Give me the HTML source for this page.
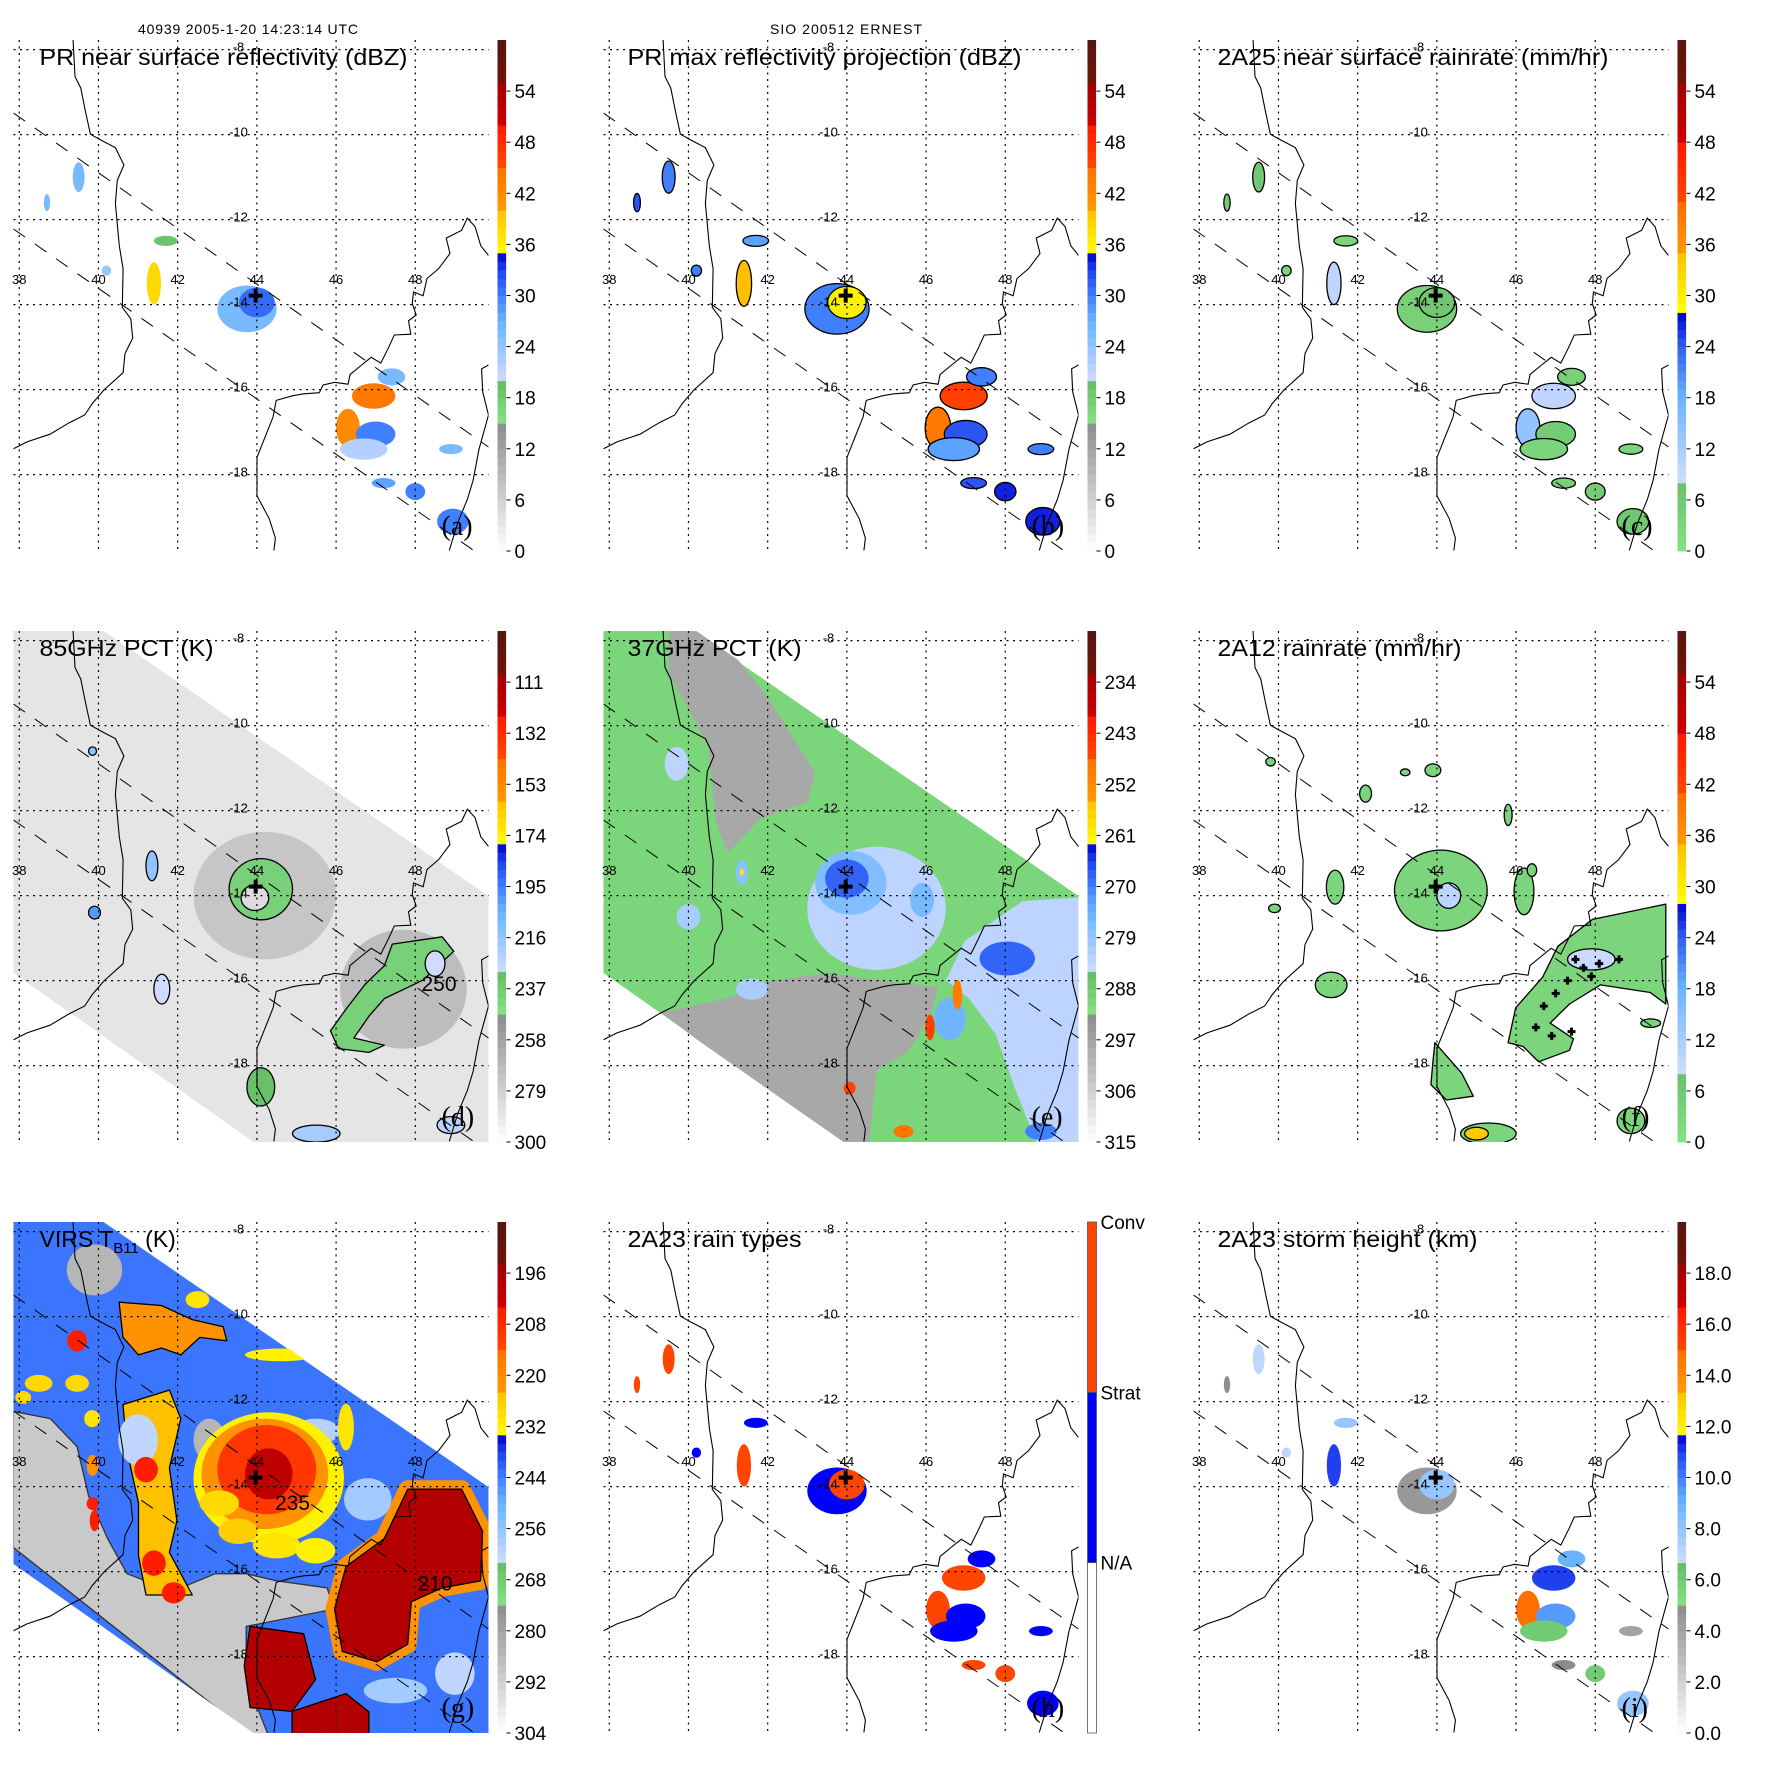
<!DOCTYPE html>
<html><head><meta charset="utf-8"><style>
html,body{margin:0;padding:0;background:#fff;}
svg{display:block;font-family:"Liberation Sans",sans-serif;}
</style></head><body>
<svg id="fig" xmlns="http://www.w3.org/2000/svg" width="1771" height="1771" viewBox="0 0 1771 1771">
<rect x="0" y="0" width="1771" height="1771" fill="#fff"/>
<text x="248" y="34" font-size="14" text-anchor="middle" textLength="220">40939 2005-1-20 14:23:14 UTC</text>
<text x="846" y="34" font-size="14" text-anchor="middle" textLength="152">SIO 200512 ERNEST</text>
</svg>
<script>
// ---------- data ----------
const panelTitles=['PR near surface reflectivity (dBZ)','PR max reflectivity projection (dBZ)','2A25 near surface rainrate (mm/hr)','85GHz PCT (K)','37GHz PCT (K)','2A12 rainrate (mm/hr)','VIRS','2A23 rain types','2A23 storm height (km)'];
const titleWidths=[368,394,391,174,174,244,143,174,260];
const panelLetters=['(a)','(b)','(c)','(d)','(e)','(f)','(g)','(h)','(i)'];
const lonTicks=[38,40,42,44,46,48];
const latTicks=[-8,-10,-12,-14,-16,-18];
const tickA=['0','6','12','18','24','30','36','42','48','54'];
const tickD=['300','279','258','237','216','195','174','153','132','111'];
const tickE=['315','306','297','288','279','270','261','252','243','234'];
const tickG=['304','292','280','268','256','244','232','220','208','196'];
const tickI=['0.0','2.0','4.0','6.0','8.0','10.0','12.0','14.0','16.0','18.0'];
const tickH=['Conv','Strat','N/A'];
// PR cells (shared locations)
const prLon=[43.75,44.0,46.95,46.3,47.0,46.7,48.95,41.4,41.7,39.5,38.7,48.0,47.2,48.9,40.2,47.4];
const prLat=[-14.1,-13.95,-16.15,-16.9,-17.05,-17.4,-19.1,-13.5,-12.5,-11.0,-11.6,-18.4,-18.2,-17.4,-13.2,-15.7];
const prRx=[0.75,0.45,0.55,0.3,0.5,0.6,0.4,0.18,0.3,0.15,0.08,0.25,0.3,0.3,0.12,0.35];
const prRy=[0.55,0.35,0.3,0.45,0.3,0.25,0.3,0.5,0.12,0.35,0.2,0.2,0.12,0.12,0.12,0.2];
const aVal=[26,31,44,42,30,22,30,38,19,26,26,30,28,26,24,26];
const bVal=[30,36,46,44,32,28,34,40,28,30,32,34,32,30,30,30];
const cVal=[4,6,10,14,5,3,6,10,3,6,5,5,4,3,3,4];
const hType=[1,2,2,2,1,1,1,2,1,2,2,2,2,1,1,1];
const iHeight=[4.5,8,11,15,9.5,6,8,11,8,7,5,6,5,4,7,9];
// panel d (85GHz)
const dLon=[44.2,47.7,44.1,43.95,41.35,39.9,39.85,41.6,44.1,45.5,48.9,48.5];
const dLat=[-14.0,-16.2,-13.85,-14.05,-13.3,-14.4,-10.6,-16.2,-18.5,-19.6,-19.4,-15.6];
const dRx=[1.8,1.6,0.8,0.35,0.15,0.15,0.1,0.2,0.35,0.6,0.35,0.25];
const dRy=[1.5,1.4,0.72,0.3,0.35,0.15,0.1,0.35,0.45,0.2,0.2,0.3];
const dVal=[274,270,240,284,215,200,215,230,232,220,225,230];
const dMadLon=[47.42,48.68,48.97,48.19,47.81,47.22,46.83,46.45,47.22,46.83,46.06,45.86,46.25,46.74,47.22];
const dMadLat=[-15.14,-14.97,-15.31,-15.99,-16.16,-16.42,-16.84,-17.35,-17.52,-17.69,-17.60,-17.18,-16.67,-16.08,-15.65];
const dMadVal=240;
// panel e (37GHz)
const eLandLon=[39.5,40.6,41.9,43.2,43.0,41.8,41.0,40.7,40.5,40.0,39.5];
const eLandLat=[-7.7,-7.7,-9.2,-11.1,-11.8,-12.2,-13.0,-12.3,-10.5,-9.6,-8.8];
const eMadLon=[39.31,40.96,42.13,43.58,44.75,46.30,46.11,45.52,44.75,44.55,43.78];
const eMadLat=[-16.75,-16.42,-15.99,-15.82,-15.99,-16.16,-16.84,-17.69,-18.11,-19.9,-19.9];
const eRightLon=[46.98,48.44,49.9,49.9,48.83,48.24,47.76,47.08,46.50];
const eRightLat=[-15.06,-14.13,-14.04,-19.9,-19.9,-18.53,-17.26,-16.42,-15.99];
const eLon=[44.75,44.1,44.0,48.05,48.9,46.6,39.7,40.0,41.6,41.35,46.79,46.1,44.07,45.43,45.9,41.35];
const eLat=[-14.3,-13.7,-13.6,-15.48,-19.55,-16.9,-10.9,-14.5,-16.2,-13.45,-16.33,-17.1,-18.53,-19.55,-14.1,-13.45];
const eRx=[1.75,0.9,0.55,0.7,0.4,0.4,0.3,0.3,0.4,0.15,0.12,0.12,0.15,0.25,0.3,0.05];
const eRy=[1.45,0.75,0.45,0.4,0.2,0.5,0.4,0.3,0.25,0.3,0.35,0.3,0.15,0.15,0.4,0.08];
const eVal=[283,277,268,268,270,275,283,281,281,278,250,246,246,248,276,260];
// panel f (2A12)
const fMadLon=[47.06,47.93,49.78,49.78,49.39,48.13,47.35,46.86,47.45,47.35,46.57,46.18,45.80,45.99,46.67];
const fMadLat=[-15.19,-14.56,-14.20,-16.55,-16.28,-16.10,-16.55,-17.00,-17.37,-17.64,-17.91,-17.55,-17.46,-16.64,-15.92];
const fSwLon=[43.95,44.63,44.92,44.24,43.85,43.90];
const fSwLat=[-17.46,-18.18,-18.72,-18.81,-18.45,-17.91];
const fLon=[44.1,45.3,46.2,41.43,41.33,48.9,42.2,43.2,43.9,45.8,46.4,49.4,39.9,39.8,44.3,47.9,45.0];
const fLat=[-13.88,-19.6,-13.9,-13.8,-16.1,-19.3,-11.6,-11.1,-11.05,-12.1,-13.4,-17.0,-14.3,-10.85,-14.0,-15.5,-19.6];
const fRx=[1.17,0.7,0.25,0.22,0.4,0.35,0.15,0.12,0.2,0.1,0.12,0.25,0.15,0.12,0.3,0.6,0.3];
const fRy=[0.95,0.25,0.55,0.4,0.3,0.3,0.2,0.08,0.15,0.25,0.15,0.1,0.1,0.1,0.3,0.25,0.15];
const fVal=[3,3,3,3,3,3,3,3,3,3,3,3,3,3,10,9,34];
const fCrossLon=[47.5,47.7,47.9,48.1,47.3,47.0,46.7,46.5,46.9,47.4,48.6];
const fCrossLat=[-15.5,-15.7,-15.9,-15.6,-16.0,-16.3,-16.6,-17.1,-17.3,-17.2,-15.5];
// panel g (VIRS)
const gGreyLon=[37.85,38.78,39.46,39.75,40.23,40.72,41.88,42.95,43.73,44.50,45.77,45.96,43.73,43.73,44.31,43.92,37.85];
const gGreyLat=[-12.23,-12.40,-13.06,-14.22,-15.22,-16.05,-16.46,-16.05,-16.05,-16.22,-16.38,-16.88,-17.29,-18.54,-19.9,-19.9,-15.43];
const gTopLon=[40.52,41.59,42.37,43.15,43.24,42.56,42.08,41.59,41.01,40.62];
const gTopLat=[-9.66,-9.74,-10.07,-10.24,-10.57,-10.49,-10.90,-10.74,-10.90,-10.49];
const gColLon=[40.62,41.79,42.08,41.79,41.98,41.79,42.08,42.37,41.20,41.01,41.01,40.72];
const gColLat=[-12.07,-11.73,-12.40,-13.56,-14.80,-15.55,-16.05,-16.55,-16.55,-15.63,-14.39,-13.15];
const gMadLon=[47.81,49.17,49.70,49.65,48.68,47.90,47.81,47.03,46.16,45.96,46.25,47.22];
const gMadLat=[-14.06,-14.06,-15.05,-16.22,-16.38,-16.71,-17.71,-18.12,-17.88,-16.88,-15.88,-15.22];
const gSw1Lon=[43.83,45.18,45.48,44.89,43.83,43.68];
const gSw1Lat=[-17.29,-17.46,-18.54,-19.29,-19.20,-18.21];
const gSw2Lon=[44.89,46.25,46.83,46.83,44.89];
const gSw2Lat=[-19.29,-18.87,-19.3,-19.9,-19.9];
const gLon=[39.9,42.8,45.5,41.0,45.5,46.8,49.0,47.5,44.3,44.2,44.25,44.3,43.05,43.53,44.5,45.48,46.25,44.6,42.5,38.49,38.1,39.46,39.84,39.46,39.85,39.9,39.85,41.2,41.4,41.9];
const gLat=[-8.9,-12.9,-14.3,-12.9,-12.7,-14.3,-18.4,-18.8,-13.8,-13.7,-13.6,-13.7,-14.39,-15.05,-15.39,-15.51,-12.6,-10.9,-9.6,-11.57,-11.9,-11.57,-12.4,-10.57,-14.4,-14.8,-13.5,-13.6,-15.8,-16.5];
const gRx=[0.7,0.4,0.5,0.5,0.6,0.6,0.5,0.8,1.9,1.6,1.25,0.6,0.5,0.5,0.6,0.5,0.2,0.9,0.3,0.35,0.2,0.3,0.2,0.25,0.15,0.12,0.15,0.3,0.3,0.3];
const gRy=[0.6,0.5,0.4,0.6,0.3,0.5,0.5,0.3,1.55,1.3,1.05,0.6,0.3,0.3,0.3,0.3,0.55,0.15,0.2,0.2,0.15,0.2,0.2,0.25,0.15,0.25,0.25,0.3,0.3,0.25];
const gVal=[285,285,282,262,260,258,262,258,232,222,210,200,228,226,230,232,230,232,230,228,228,228,230,205,205,205,222,205,205,205];
// ---------- helpers ----------
const svg=document.getElementById('fig');
const NS='http://www.w3.org/2000/svg';
const COLX=[13.5,603.5,1193.5], ROWY=[40,631,1222];
const MW=475, MH=511;
function mk(tag,attrs,parent){const e=document.createElementNS(NS,tag);for(const k in attrs)e.setAttribute(k,attrs[k]);parent.appendChild(e);return e;}
function px(lon){return 5.77+39.6*(lon-38);}
function py(lat){return 9.6+42.5*(-8-lat);}
const STD=[[0,'#ffffff'],[0.25,'#8c8c8c'],[0.25,'#86e286'],[0.333,'#66bb66'],[0.333,'#d0dcff'],[0.45,'#6ab4ff'],[0.5,'#4080ff'],[0.55,'#2040f0'],[0.583,'#0000cc'],[0.583,'#ffff00'],[0.667,'#ffc000'],[0.667,'#ff9a00'],[0.75,'#ff7000'],[0.75,'#ff4a00'],[0.833,'#ff1800'],[0.833,'#d00000'],[0.917,'#a00000'],[0.917,'#6e1408'],[1,'#55170f']];
const RAIN=[[0,'#86e286'],[0.133,'#6cbf6c'],[0.133,'#d4ddff'],[0.3,'#6ab4ff'],[0.4,'#3060f0'],[0.467,'#0000cc'],[0.467,'#ffff00'],[0.583,'#ffc000'],[0.583,'#ff9a00'],[0.683,'#ff6a00'],[0.683,'#ff4a00'],[0.8,'#ff1800'],[0.8,'#d00000'],[0.917,'#a00000'],[0.917,'#6e1408'],[1,'#55170f']];
function hx(c){return [parseInt(c.substr(1,2),16),parseInt(c.substr(3,2),16),parseInt(c.substr(5,2),16)];}
function cmap(f,stops){f=Math.max(0,Math.min(1,f));for(let i=0;i<stops.length-1;i++){const a=stops[i],b=stops[i+1];if(f>=a[0]&&f<=b[0]&&b[0]>a[0]){const t=(f-a[0])/(b[0]-a[0]);const A=hx(a[1]),B=hx(b[1]);return 'rgb('+A.map((v,j)=>Math.round(v+(B[j]-v)*t)).join(',')+')';}}return stops[stops.length-1][1];}
const scales={
 a:v=>cmap(v/60,STD), c:v=>cmap(v/60,RAIN), d:v=>cmap((300-v)/210,STD), e:v=>cmap((315-v)/90,STD),
 g:v=>cmap((304-v)/120,STD), i:v=>cmap(v/20,STD), h:v=>(v===2?'#ff4500':'#0000ff')
};
function pts(lons,lats){return lons.map((l,i)=>px(l).toFixed(1)+','+py(lats[i]).toFixed(1)).join(' ');}
function ellipses(g,lons,lats,rxs,rys,vals,fn,stroke,nm){
 for(let i=0;i<lons.length;i++){
  const e=mk('ellipse',{cx:px(lons[i]),cy:py(lats[i]),rx:rxs[i]*39.6,ry:rys[i]*42.5,fill:fn(vals[i]),stroke:stroke||'none','stroke-width':1.3},g);
  
  
 }
}
function poly(g,lons,lats,fill,stroke,nm,sw){
 const p=mk('polygon',{points:pts(lons,lats),fill:fill,stroke:stroke||'none','stroke-width':sw||1.3,'stroke-linejoin':'round'},g);
 
 
 return p;
}
// coast in zoom coords -> panel px
const africa=[[190,105],[195,200],[210,230],[222,290],[235,350],[262,365],[300,385],[322,430],[305,470],[300,530],[310,640],[320,700],[318,800],[340,830],[345,880],[325,920],[320,970],[270,1015],[240,1050],[220,1080],[180,1100],[130,1130],[70,1150],[35,1168]];
const madagascar=[[1270,665],[1250,640],[1235,590],[1215,568],[1200,600],[1160,620],[1170,660],[1140,700],[1110,725],[1100,770],[1075,760],[1072,790],[1082,820],[1062,835],[1068,870],[1025,872],[1010,905],[990,945],[965,930],[940,950],[910,975],[905,1000],[870,995],[840,1002],[830,1022],[790,1025],[760,1030],[718,1042],[710,1085],[690,1135],[668,1190],[668,1290],[700,1350],[716,1400],[712,1432]];
const madE1=[[1270,950],[1252,960],[1255,1020],[1270,1080]];
const madE2=[[1270,1080],[1245,1170],[1230,1250],[1215,1300],[1190,1360],[1168,1432]];
function zp(arr){return arr.map(p=>((p[0]-35)/2.6).toFixed(1)+','+((p[1]-105)/2.6).toFixed(1)).join(' ');}
const SWATH='0,0 90,0 475,265 475,511 240,511 0,342';
function makePanel(k){
 const col=k%3,row=Math.floor(k/3);
 const g=mk('g',{transform:'translate('+COLX[col]+','+ROWY[row]+')'},svg);
 
 
 const defs=mk('defs',{},g);
 const cp=mk('clipPath',{id:'mc'+k},defs);mk('rect',{x:0,y:0,width:MW,height:MH},cp);
 const data=mk('g',{'clip-path':'url(#mc'+k+')'},g);
 
 
 return {g,data,sw:data,k};
}
function maskSwath(P){
 const m1=mk('polygon',{points:'90,-2 480,-2 480,265 475,265',fill:'#fff'},P.data);
 
 
 const m2=mk('polygon',{points:'-2,342 240,511 240,515 -2,515',fill:'#fff'},P.data);
 
 
}
function overlay(P){
 const g=P.g;
 const ov=mk('g',{'clip-path':'url(#mc'+P.k+')'},g);
 
 
 [africa,madagascar,madE1,madE2].forEach((c,i)=>{
  const l=mk('polyline',{points:zp(c),fill:'none',stroke:'#000','stroke-width':1.1},ov);
  
  
 });
 lonTicks.forEach(lo=>{
  const l=mk('line',{x1:px(lo),y1:0,x2:px(lo),y2:MH,stroke:'#000','stroke-width':1.2,'stroke-dasharray':'2,4.5'},ov);
  
  
 });
 latTicks.forEach(la=>{
  const l=mk('line',{x1:0,y1:py(la),x2:MW,y2:py(la),stroke:'#000','stroke-width':1.2,'stroke-dasharray':'2,4.5'},ov);
  
  
 });
 const d1=mk('line',{x1:0,y1:73,x2:475,y2:407,stroke:'#000','stroke-width':1,'stroke-dasharray':'14,12'},ov);
 
 
 const d2=mk('line',{x1:0,y1:189,x2:461,y2:511,stroke:'#000','stroke-width':1,'stroke-dasharray':'14,12'},ov);
 
 
 lonTicks.forEach(lo=>{
  const t=mk('text',{x:px(lo),y:244,'font-size':13,'text-anchor':'middle'},g);t.textContent=String(lo);
  
  
 });
 latTicks.forEach(la=>{
  const t=mk('text',{x:225,y:py(la)+2,'font-size':13,'text-anchor':'middle'},g);t.textContent=String(la);
  
  
 });
 const cx=px(43.97),cy=py(-13.79);
 const c1=mk('path',{d:'M'+(cx-7)+' '+cy+'H'+(cx+7)+'M'+cx+' '+(cy-7)+'V'+(cy+7),stroke:'#000','stroke-width':4},g);
 
 
}
function titleAndLetter(P){
 const k=P.k;
 const t=mk('text',{x:k%3===0?26:24,y:25,'font-size':23},P.g);
 if(k===6){
  t.textContent='VIRS T';
  const s=mk('tspan',{'font-size':15,dy:6},t);s.textContent='B11';
  const s2=mk('tspan',{dy:-6},t);s2.textContent=' (K)';
 } else {
  t.textContent=panelTitles[k];
  t.setAttribute('textLength',titleWidths[k]);
  t.setAttribute('lengthAdjust','spacingAndGlyphs');
 }
 
 
 const L=mk('text',{x:428,y:495,'font-size':28,'font-family':'Liberation Serif, serif'},P.g);L.textContent=panelLetters[k];
 
 
}
function colorbar(P,stops,labels){
 const cb=mk('g',{},P.g);
 
 
 const n=60,h=MH/n;
 for(let i=0;i<n;i++){
  const r=mk('rect',{x:484,y:MH-(i+1)*h,width:8.6,height:h+0.4,fill:cmap((i+0.5)/n,stops)},cb);
  
  
 }
 labels.forEach((lab,i)=>{
  const y=MH-i*MH/10;
  const tk=mk('line',{x1:493,y1:y,x2:497,y2:y,stroke:'#000','stroke-width':1},cb);
  
  
  const t=mk('text',{x:501,y:y+7,'font-size':19},cb);t.textContent=lab;
  
  
 });
}
// ---------- panels ----------
// (a)
let P=makePanel(0);
ellipses(P.data,prLon,prLat,prRx,prRy,aVal,scales.a,null,'pr-cell');
overlay(P);titleAndLetter(P);colorbar(P,STD,tickA);
// (b)
P=makePanel(1);
ellipses(P.data,prLon,prLat,prRx.map(v=>v*1.08),prRy.map(v=>v*1.08),bVal,scales.a,'#000','pr-max-cell');
overlay(P);titleAndLetter(P);colorbar(P,STD,tickA);
// (c)
P=makePanel(2);
ellipses(P.data,prLon,prLat,prRx,prRy,cVal,scales.c,'#000','rain-cell');
overlay(P);titleAndLetter(P);colorbar(P,RAIN,tickA);
// (d)
P=makePanel(3);
let bg=mk('polygon',{points:SWATH,fill:scales.d(288)},P.data);


ellipses(P.sw,dLon.slice(0,2),dLat.slice(0,2),dRx.slice(0,2),dRy.slice(0,2),dVal.slice(0,2),scales.d,null,'pct85-halo');
poly(P.sw,dMadLon,dMadLat,scales.d(dMadVal),'#000','pct85-madagascar-band');
ellipses(P.sw,dLon.slice(2),dLat.slice(2),dRx.slice(2),dRy.slice(2),dVal.slice(2),scales.d,'#000','pct85-cell');
maskSwath(P);
overlay(P);titleAndLetter(P);colorbar(P,STD,tickD);
let t250=mk('text',{x:px(48.6),y:py(-16.25),'font-size':21,'text-anchor':'middle'},P.g);t250.textContent='250';


// (e)
P=makePanel(4);
bg=mk('polygon',{points:SWATH,fill:scales.e(290)},P.data);


poly(P.sw,eLandLon,eLandLat,scales.e(298),null,'pct37-land-africa');
poly(P.sw,eMadLon,eMadLat,scales.e(298),null,'pct37-land-madagascar');
poly(P.sw,eRightLon,eRightLat,scales.e(283),null,'pct37-east-rain');
ellipses(P.sw,eLon,eLat,eRx,eRy,eVal,scales.e,null,'pct37-cell');
maskSwath(P);
overlay(P);titleAndLetter(P);colorbar(P,STD,tickE);
// (f)
P=makePanel(5);
poly(P.data,fMadLon,fMadLat,scales.c(3),'#000','rain2a12-madagascar');
poly(P.data,fSwLon,fSwLat,scales.c(3),'#000','rain2a12-southwest');
ellipses(P.data,fLon,fLat,fRx,fRy,fVal,scales.c,'#000','rain2a12-cell');
fCrossLon.forEach((lo,i)=>{
 const x=px(lo),y=py(fCrossLat[i]);
 const c=mk('path',{d:'M'+(x-4)+' '+y+'H'+(x+4)+'M'+x+' '+(y-4)+'V'+(y+4),stroke:'#000','stroke-width':3},P.data);
 
 
});
overlay(P);titleAndLetter(P);colorbar(P,RAIN,tickA);
// (g)
P=makePanel(6);
bg=mk('polygon',{points:SWATH,fill:scales.g(243)},P.data);


poly(P.sw,gGreyLon,gGreyLat,scales.g(290),'#333','virs-clear-grey');
poly(P.sw,gTopLon,gTopLat,scales.g(222),'#000','virs-top-band');
poly(P.sw,gColLon,gColLat,scales.g(224),'#000','virs-left-band');
let rg=poly(P.sw,gMadLon,gMadLat,scales.g(231),null,'virs-madagascar-ring',0);
rg.setAttribute('stroke',scales.g(222));rg.setAttribute('stroke-width',18);
poly(P.sw,gMadLon,gMadLat,scales.g(198),'#000','virs-madagascar-core');
poly(P.sw,gSw1Lon,gSw1Lat,scales.g(198),'#000','virs-south-core-1');
poly(P.sw,gSw2Lon,gSw2Lat,scales.g(198),'#000','virs-south-core-2');
ellipses(P.sw,gLon,gLat,gRx,gRy,gVal,scales.g,null,'virs-cell');
maskSwath(P);
overlay(P);titleAndLetter(P);colorbar(P,STD,tickG);
let t210=mk('text',{x:px(48.5),y:py(-16.45),'font-size':21,'text-anchor':'middle'},P.g);t210.textContent='210';


let t235=mk('text',{x:px(44.9),y:py(-14.55),'font-size':21,'text-anchor':'middle'},P.g);t235.textContent='235';


// (h)
P=makePanel(7);
ellipses(P.data,prLon,prLat,prRx,prRy,hType,scales.h,null,'rain-type-cell');
overlay(P);titleAndLetter(P);
const hb=mk('g',{},P.g);


['#ff4500','#0000ff','#ffffff'].forEach((c,i)=>{
 const r=mk('rect',{x:484,y:i*MH/3,width:9,height:MH/3,fill:c,stroke:'#555','stroke-width':0.8},hb);
 
 
});
tickH.forEach((lab,i)=>{
 const t=mk('text',{x:497,y:i*MH/3+7,'font-size':19},hb);t.textContent=lab;
 
 
});
// (i)
P=makePanel(8);
ellipses(P.data,prLon,prLat,prRx,prRy,iHeight,scales.i,null,'storm-height-cell');
overlay(P);titleAndLetter(P);colorbar(P,STD,tickI);
</script>
</body></html>
